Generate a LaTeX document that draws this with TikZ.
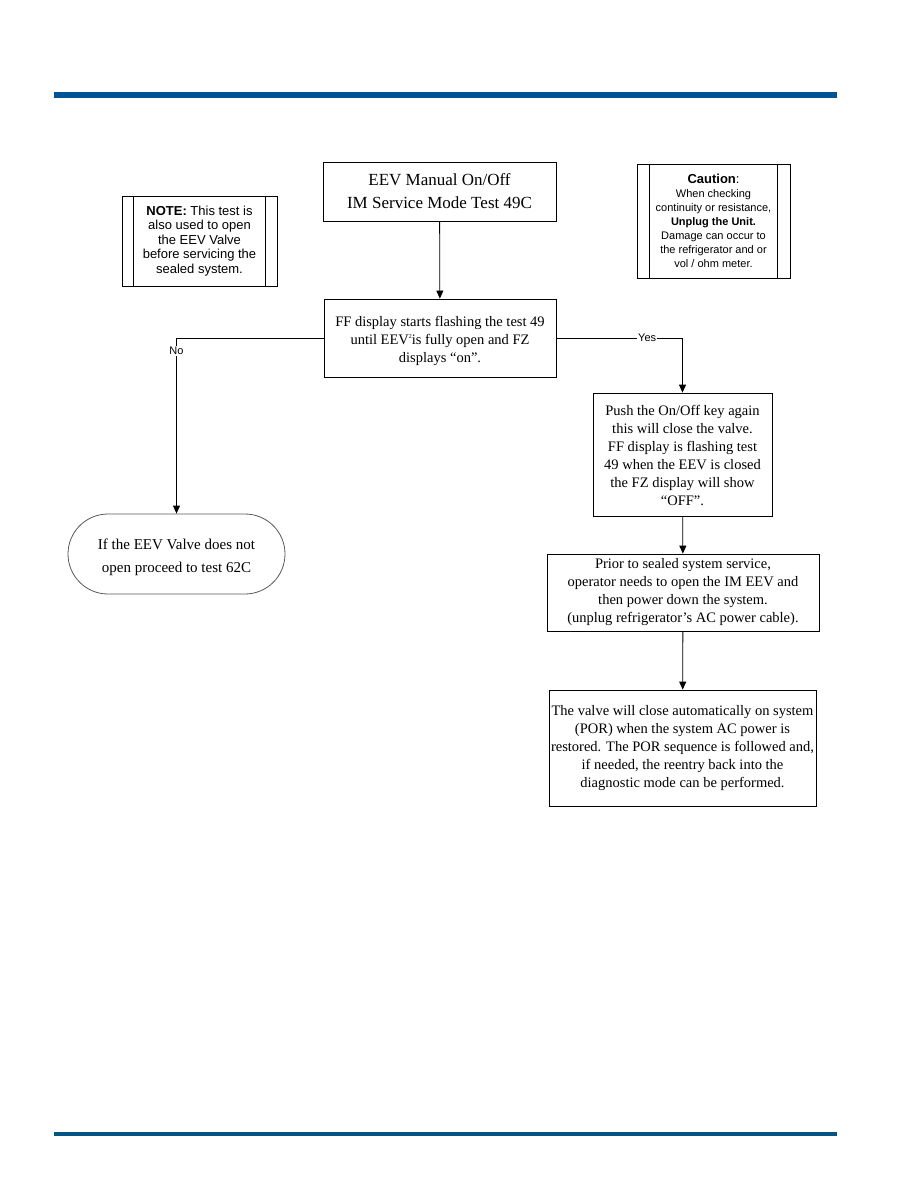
\documentclass[tikz,border=0pt]{standalone}
\usepackage{fontspec}
\setmainfont{Liberation Serif}
\setsansfont{Liberation Sans}
\usepackage{xcolor}
\usepackage{tikz}
\usetikzlibrary{arrows.meta,positioning,calc}
\definecolor{barblue}{RGB}{0,84,150}
\definecolor{bardark}{RGB}{6,84,130}
\tikzset{
  flowbox/.style={draw, line width=0.8pt, align=center, inner sep=0pt},
  sidebox/.style={draw, line width=0.8pt, align=center, inner sep=0pt, font=\sffamily},
  flowline/.style={line width=0.8pt, -{Triangle[length=8pt,width=7pt]}},
  branchtag/.style={fill=white, inner sep=1pt, font=\sffamily\fontsize{11}{13}\selectfont}
}

\begin{document}
\begin{tikzpicture}[x=1pt, y=-1pt, every node/.style={font=\fontsize{14.5}{18}\selectfont}]
  \useasboundingbox (0,0) rectangle (918,1188);
  \fill[white] (0,0) rectangle (918,1188);

  % Header and footer bars
  \fill[barblue] (54,92) rectangle (837,98);
  \fill[bardark] (54,1132) rectangle (837,1136);

  % Boxes
  \node[flowbox, minimum width=233pt, minimum height=59pt, font=\fontsize{17}{23}\selectfont] (title) at (439.5,191.5) {EEV Manual On/Off\\IM Service Mode Test 49C};
  \node[sidebox, minimum width=155pt, minimum height=90pt, font=\sffamily\fontsize{13}{14.6}\selectfont] (note) at (199.5,241) {\textbf{NOTE:} This test is\\also used to open\\the EEV Valve\\before servicing the\\sealed system.};
  \node[sidebox, minimum width=153pt, minimum height=114pt, font=\sffamily\fontsize{11}{14}\selectfont] (caution) at (713.5,221) {{\fontsize{13}{14}\selectfont\textbf{Caution}:}\\When checking\\continuity or resistance,\\\textbf{Unplug the Unit.}\\Damage can occur to\\the refrigerator and or\\vol / ohm meter.};
  \node[flowbox, minimum width=232pt, minimum height=78pt] (check) at (440,338) {\rule{0pt}{16pt}FF display starts flashing the test 49\\until EEV\raisebox{0.9ex}{\fontsize{6}{6}\selectfont 2}is fully open and FZ\\displays “on”.};
  \node[flowbox, minimum width=179pt, minimum height=123pt] (close) at (682.5,454.5) {\rule{0pt}{12pt}Push the On/Off key again\\this will close the valve.\\FF display is flashing test\\49 when the EEV is closed\\the FZ display will show\\“OFF”.};
  \node[flowbox, minimum width=272pt, minimum height=77pt] (prior) at (683,592.5) {Prior to sealed system service,\\operator needs to open the IM EEV and\\then power down the system.\\(unplug refrigerator’s AC power cable).};
  \node[flowbox, minimum width=267pt, minimum height=116pt] (restore) at (682.5,748) {The valve will close automatically on system\\(POR) when the system AC power is\\restored. The POR sequence is followed and,\\if needed, the reentry back into the\\diagnostic mode can be performed.};
  \node[flowbox, draw=black!65, rounded corners=40pt, minimum width=217pt, minimum height=80pt, font=\fontsize{15}{23}\selectfont] (fail) at (176.5,554) {\rule{0pt}{18pt}If the EEV Valve does not\\open proceed to test 62C};

  % Inner rules of the side boxes
  \draw[line width=0.8pt] ([xshift=12pt]note.north west) -- ([xshift=12pt]note.south west);
  \draw[line width=0.8pt] ([xshift=-12pt]note.north east) -- ([xshift=-12pt]note.south east);
  \draw[line width=0.8pt] ([xshift=13pt]caution.north west) -- ([xshift=13pt]caution.south west);
  \draw[line width=0.8pt] ([xshift=-13pt]caution.north east) -- ([xshift=-13pt]caution.south east);

  % Connectors
  \draw[flowline] (title) -- (check);
  \draw[flowline] (check.west) -| node[branchtag, pos=0.537] {No} (fail.north);
  \draw[flowline] (check.east) -| node[branchtag, pos=0.36] {Yes} (close.north);
  \draw[flowline] (close) -- (prior);
  \draw[flowline] (prior) -- (restore);
\end{tikzpicture}
\end{document}
